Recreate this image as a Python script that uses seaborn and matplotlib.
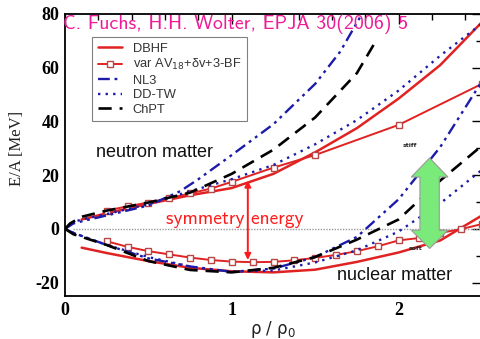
import numpy as np
import pandas as pd
import matplotlib
matplotlib.use("Agg")
import matplotlib.pyplot as plt
import seaborn as sns
from matplotlib.patches import Polygon
from matplotlib.ticker import MultipleLocator

# ---------------- data (rho/rho0, E/A in MeV) ----------------
dbhf_nm_x = [0.1, 0.25, 0.5, 0.75, 1.0, 1.25, 1.5, 1.75, 2.0, 2.25, 2.5]
dbhf_nm_y = [3.5, 5.8, 9.3, 12.5, 15.2, 20.5, 28.5, 37.5, 48.5, 61.0, 77.0]
dbhf_sm_x = [0.1, 0.25, 0.5, 0.75, 1.0, 1.25, 1.5, 1.75, 2.0, 2.25, 2.5]
dbhf_sm_y = [-7.0, -9.0, -12.0, -14.5, -15.8, -16.2, -15.2, -12.3, -8.8, -4.3, 5.0]

var_nm_x = [0.25, 0.375, 0.5, 0.625, 0.75, 0.875, 1.0, 1.25, 1.5, 2.0, 2.5]
var_nm_y = [6.8, 8.4, 9.8, 11.4, 13.2, 15.0, 17.5, 22.8, 27.5, 38.7, 54.0]
var_sm_x = [0.25, 0.375, 0.5, 0.625, 0.75, 0.875, 1.0, 1.125, 1.25, 1.375,
            1.5, 1.625, 1.75, 1.875, 2.0, 2.125, 2.25, 2.375, 2.5]
var_sm_y = [-4.6, -6.7, -8.3, -9.5, -10.7, -11.6, -12.2, -12.4, -12.3, -11.7,
            -10.8, -9.7, -8.3, -6.5, -4.3, -3.4, -1.5, -0.1, 1.8]

nl3_nm_x = [0.0, 0.05, 0.1, 0.25, 0.5, 0.69, 0.8, 1.0, 1.25, 1.5, 1.65, 1.78]
nl3_nm_y = [0.0, 2.0, 2.8, 5.0, 8.7, 14.0, 18.5, 27.5, 39.0, 54.0, 66.0, 80.0]
nl3_sm_x = [0.0, 0.05, 0.25, 0.5, 0.75, 1.0, 1.25, 1.5, 1.75, 2.0, 2.25, 2.5]
nl3_sm_y = [0.0, -1.5, -6.0, -11.0, -14.0, -16.0, -14.8, -10.5, -3.0, 11.0, 30.5, 55.0]

ddtw_nm_x = [0.0, 0.05, 0.1, 0.25, 0.5, 0.75, 1.0, 1.25, 1.5, 1.75, 2.0, 2.25, 2.5]
ddtw_nm_y = [0.0, 2.5, 3.5, 5.5, 9.2, 14.0, 18.5, 23.8, 31.5, 40.5, 51.5, 64.5, 76.5]
ddtw_sm_x = [0.0, 0.05, 0.25, 0.5, 0.75, 1.0, 1.25, 1.5, 1.75, 2.0, 2.25, 2.5]
ddtw_sm_y = [0.0, -1.5, -6.0, -10.5, -14.0, -16.0, -15.5, -12.5, -8.0, -1.0, 9.5, 22.0]

chpt_nm_x = [0.0, 0.03, 0.1, 0.25, 0.5, 0.75, 1.0, 1.25, 1.5, 1.75, 1.85]
chpt_nm_y = [0.0, 2.0, 4.5, 6.8, 9.8, 13.5, 20.5, 29.5, 41.5, 58.0, 68.5]
chpt_sm_x = [0.0, 0.05, 0.25, 0.5, 0.75, 1.0, 1.25, 1.5, 1.75, 2.0, 2.25, 2.5]
chpt_sm_y = [0.0, -2.0, -6.0, -12.0, -15.3, -16.2, -14.5, -10.5, -4.0, 3.5, 18.0, 31.0]

legend_labels = ["DBHF", "var AV$_{18}$+δv+3-BF", "NL3", "DD-TW", "ChPT"]
title_text = "C. Fuchs, H.H. Wolter, EPJA 30(2006) 5"

# ---------------- styling ----------------
sns.set_theme(style="white")
plt.rcParams["font.family"] = ["DejaVu Sans"]
plt.rcParams["axes.unicode_minus"] = False

RED = "#e02222"
BLUE = "#1c1ca8"
SQ_EDGE = "#b84646"

fig = plt.figure(figsize=(4.8, 3.39), dpi=100)
ax = fig.add_axes([65 / 480, 43 / 339, 417 / 480, 282 / 339])

styles = {
    "DBHF": dict(color=RED, lw=1.8, linestyle="-"),
    "VAR": dict(color=RED, lw=1.4, linestyle="-", marker="s", markersize=5,
                markerfacecolor="white", markeredgecolor=SQ_EDGE, markeredgewidth=1.0),
    "NL3": dict(color=BLUE, lw=1.7, linestyle=(0, (5, 2, 1.2, 2, 1.2, 2))),
    "DDTW": dict(color=BLUE, lw=1.7, linestyle=(0, (1, 2.2))),
    "CHPT": dict(color="black", lw=1.9, linestyle=(0, (5, 3))),
}

series = [
    ("DBHF", legend_labels[0], dbhf_nm_x, dbhf_nm_y, dbhf_sm_x, dbhf_sm_y),
    ("VAR", legend_labels[1], var_nm_x, var_nm_y, var_sm_x, var_sm_y),
    ("NL3", legend_labels[2], nl3_nm_x, nl3_nm_y, nl3_sm_x, nl3_sm_y),
    ("DDTW", legend_labels[3], ddtw_nm_x, ddtw_nm_y, ddtw_sm_x, ddtw_sm_y),
    ("CHPT", legend_labels[4], chpt_nm_x, chpt_nm_y, chpt_sm_x, chpt_sm_y),
]

# zero line
ax.axhline(0, xmin=0.02, xmax=1.0, color="#9a9a9a", lw=1.0, linestyle=(0, (1, 1)), zorder=1)

handles = []
for key, lab, nx, ny, sx, sy in series:
    st = styles[key]
    dn = pd.DataFrame({"x": nx, "y": ny})
    ds = pd.DataFrame({"x": sx, "y": sy})
    sns.lineplot(data=dn, x="x", y="y", ax=ax, sort=False, estimator=None,
                 label=lab, legend=False, **st)
    sns.lineplot(data=ds, x="x", y="y", ax=ax, sort=False, estimator=None,
                 legend=False, **st)
    handles.append(ax.lines[-2])

ax.set_xlim(0, 2.5)
ax.set_ylim(-25, 80)

ax.xaxis.set_major_locator(MultipleLocator(1))
ax.xaxis.set_minor_locator(MultipleLocator(0.2))
ax.yaxis.set_major_locator(MultipleLocator(20))
ax.yaxis.set_minor_locator(MultipleLocator(10))
ax.tick_params(which="both", direction="in", top=True, right=True, color="black")
ax.tick_params(which="major", length=7, width=1.0)
ax.tick_params(which="minor", length=4, width=1.0)
ax.tick_params(axis="both", which="major", pad=4)
for lab in ax.get_xticklabels() + ax.get_yticklabels():
    lab.set_fontfamily("Liberation Serif")
    lab.set_fontweight("bold")
    lab.set_fontsize(13)
    lab.set_color("black")
for sp in ax.spines.values():
    sp.set_color("black")
    sp.set_linewidth(1.3)

ax.set_ylabel("E/A [MeV]", fontfamily="Liberation Serif", fontsize=12, color="#222222")
ax.yaxis.set_label_coords(-0.097, 0.525)
ax.set_xlabel("ρ / ρ$_0$", fontsize=12, color="#222222", labelpad=0)

# legend
leg = ax.legend(handles=handles, labels=legend_labels, loc="upper left",
                bbox_to_anchor=(0.065, 0.918), borderaxespad=0,
                frameon=True, fancybox=False, edgecolor="#808080", framealpha=1,
                handlelength=1.9, handletextpad=0.8, labelspacing=0.18, borderpad=0.45,
                prop={"family": "Liberation Sans", "size": 9.3})
leg.get_frame().set_linewidth(0.8)
for t in leg.get_texts():
    t.set_color("#333333")

# annotations
ax.text(0.186, 28.4, "neutron matter", fontfamily="Liberation Sans", fontsize=13,
        ha="left", va="center", color="#111111")
ax.text(1.63, -17.5, "nuclear matter", fontfamily="Liberation Sans", fontsize=13,
        ha="left", va="center", color="#111111")
ax.text(1.018, 3.6, "symmetry energy", fontfamily="cmss10", fontsize=14,
        ha="center", va="center", color="#ff1a1a")
ax.text(2.07, 31, "stiff", fontfamily="DejaVu Sans", fontsize=4.5, fontweight="bold",
        ha="center", va="center", color="#222222")
ax.text(2.1, -7.5, "soft", fontfamily="DejaVu Sans", fontsize=4.5, fontweight="bold",
        ha="center", va="center", color="#222222")

# red double arrow (symmetry energy)
ax.annotate("", xy=(1.096, 18.0), xytext=(1.096, -11.6),
            arrowprops=dict(arrowstyle="<|-|>", color="#ff1a1a", lw=1.4,
                            mutation_scale=9, shrinkA=0, shrinkB=0))

# green double arrow (stiff/soft)
cx, hw, sw = 2.186, 0.11, 0.058
y_tip_top, y_head_top, y_head_bot, y_tip_bot = 26.4, 19.3, -0.5, -7.3
arrow_pts = [(cx, y_tip_top), (cx + hw, y_head_top), (cx + sw, y_head_top),
             (cx + sw, y_head_bot), (cx + hw, y_head_bot), (cx, y_tip_bot),
             (cx - hw, y_head_bot), (cx - sw, y_head_bot), (cx - sw, y_head_top),
             (cx - hw, y_head_top)]
ax.add_patch(Polygon(arrow_pts, closed=True, facecolor="#7aea7a", edgecolor="#9a9a9a",
                     lw=0.8, zorder=5))

fig.text(63 / 480, 1 - 24 / 339, title_text, fontfamily="cmss10", fontsize=14.3,
         color="#ee1a96", ha="left", va="center")

fig.savefig("out.png", dpi=100)
